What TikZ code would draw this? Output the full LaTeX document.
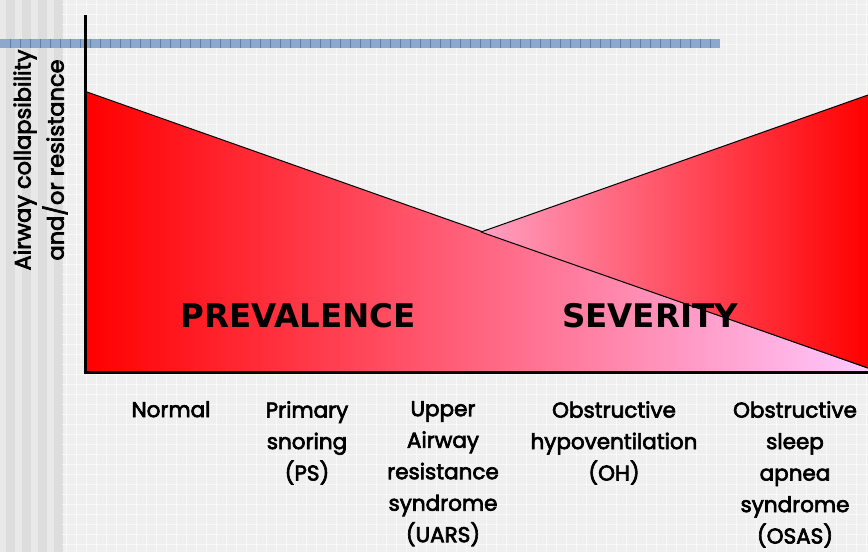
\documentclass[tikz,border=0pt]{standalone}
\usepackage{fontspec}
\newfontfamily\lblfont{Poppins}[FakeBold=3]
\newfontfamily\bigfont{DejaVu Sans}
\definecolor{bgbase}{HTML}{EFEFEF}
\definecolor{stripelight}{HTML}{E9E9E9}
\definecolor{stripedark}{HTML}{DDDDDD}
\definecolor{barblue}{HTML}{8DA8CC}
\definecolor{bartick}{HTML}{5E7FAA}
\definecolor{prevmid}{HTML}{FF9EC4}
\definecolor{prevright}{HTML}{FFC8FF}
\definecolor{sevleft}{HTML}{FFA0C4}
\definecolor{sevmid}{HTML}{FF5A78}
\tikzset{
  lbl/.style={font=\lblfont\fontsize{21.5}{31.5}\selectfont, align=center, anchor=north, inner sep=0pt},
  big/.style={font=\bigfont\bfseries\fontsize{32.5}{38}\selectfont, inner sep=0pt},
  axislbl/.style={font=\lblfont\fontsize{22.5}{26}\selectfont, rotate=90, inner sep=0pt},
  axisline/.style={line width=3pt, black},
  edge/.style={line width=1pt, black}
}
\begin{document}
\begin{tikzpicture}[x=1pt,y=-1pt]
\useasboundingbox (0,0) rectangle (868,552);
% background
\fill[bgbase] (0,0) rectangle (868,552);
\fill[stripelight] (0,0) rectangle (62,552);
\foreach \s in {6,22,38,54} \fill[stripedark] (\s,0) rectangle (\s+9,552);
\foreach \gx in {66,76,...,866} \draw[white, line width=0.8pt, opacity=0.6] (\gx,0) -- (\gx,552);
\foreach \gy in {4,14,...,550} \draw[white, line width=0.8pt, opacity=0.6] (62,\gy) -- (868,\gy);
% blue bar
\fill[barblue] (0,39) rectangle (720,48);
\foreach \bx in {10,20,...,715} \draw[bartick, line width=0.8pt] (\bx,39) -- (\bx,48);
% triangles
\coordinate (pt) at (87,92);
\coordinate (pb) at (87,372);
\coordinate (pr) at (868,372);
\coordinate (pe) at (868,368);
\coordinate (sx) at (481,232);
\coordinate (st) at (868,95);
\shade[left color=red, middle color=prevmid, right color=prevright] (pt) -- (pb) -- (pr) -- (pe) -- cycle;
\draw[edge] (pt) -- (pe);
\shade[left color=sevleft, middle color=sevmid, right color=red] (sx) -- (st) -- (pe) -- cycle;
\draw[edge] (sx) -- (st);
\draw[edge] (sx) -- (pe);
% axes
\coordinate (atop) at (85,15);
\coordinate (aorig) at (85,372);
\coordinate (aend) at (868,372);
\draw[axisline] (atop) -- (aorig);
\draw[axisline] (83.5,372) -- (aend);
% big labels
\node[big] (prev) at (298,316) {PREVALENCE};
\node[big] (sev) at (650,316) {SEVERITY};
% axis labels
\node[axislbl] (ay1) at (25,160) {Airway collapsibility};
\node[axislbl] (ay2) at (55,160) {and/or resistance};
% category labels
\node[lbl] (n1) at (171,401) {Normal};
\node[lbl] (n2) at (307,401) {Primary\\snoring\\(PS)};
\node[lbl] (n3) at (443,401) {Upper\\Airway\\resistance\\syndrome\\(UARS)};
\node[lbl] (n4) at (614,401) {Obstructive\\hypoventilation\\(OH)};
\node[lbl] (n5) at (795,401) {Obstructive\\sleep\\apnea\\syndrome\\(OSAS)};
\end{tikzpicture}
\end{document}
